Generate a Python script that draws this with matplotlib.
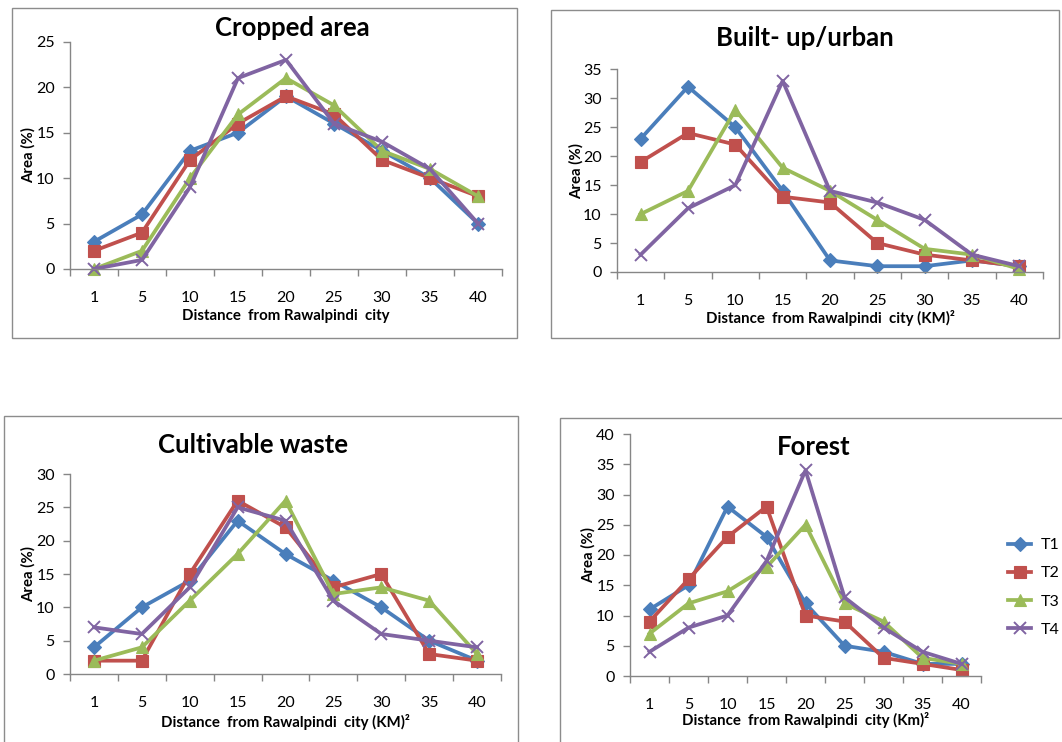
import matplotlib
matplotlib.use("Agg")
import matplotlib.pyplot as plt
from matplotlib.patches import Rectangle
from matplotlib.ticker import FixedLocator

plt.rcParams['font.family'] = ['Lato', 'DejaVu Sans']

# data
distance = ['1', '5', '10', '15', '20', '25', '30', '35', '40']
series = ['T1', 'T2', 'T3', 'T4']

cropped_t1 = [3, 6, 13, 15, 19, 16, 13, 10, 5]
cropped_t2 = [2, 4, 12, 16, 19, 17, 12, 10, 8]
cropped_t3 = [0, 2, 10, 17, 21, 18, 13, 11, 8]
cropped_t4 = [0, 1, 9, 21, 23, 16, 14, 11, 5]

built_t1 = [23, 32, 25, 14, 2, 1, 1, 2, 1]
built_t2 = [19, 24, 22, 13, 12, 5, 3, 2, 1]
built_t3 = [10, 14, 28, 18, 14, 9, 4, 3, 0.5]
built_t4 = [3, 11, 15, 33, 14, 12, 9, 3, 1]

waste_t1 = [4, 10, 14, 23, 18, 14, 10, 5, 2]
waste_t2 = [2, 2, 15, 26, 22, 13, 15, 3, 2]
waste_t3 = [2, 4, 11, 18, 26, 12, 13, 11, 3]
waste_t4 = [7, 6, 13, 25, 23, 11, 6, 5, 4]

forest_t1 = [11, 15, 28, 23, 12, 5, 4, 2, 2]
forest_t2 = [9, 16, 23, 28, 10, 9, 3, 2, 1]
forest_t3 = [7, 12, 14, 18, 25, 12, 9, 3, 2]
forest_t4 = [4, 8, 10, 19, 34, 13, 8, 4, 2]

colors = ['#4A7EBB', '#C0504D', '#9BBB59', '#8064A2']
markers = ['D', 's', '^', 'x']
msizes = [7.5, 8.5, 9, 9]

W, H = 1062, 742
fig = plt.figure(figsize=(W / 100, H / 100), dpi=100)
fig.patch.set_facecolor('white')


def px_rect(x0, y0, x1, y1):
    return [x0 / W, 1 - y1 / H, (x1 - x0) / W, (y1 - y0) / H]


def box(x0, y0, x1, y1):
    fig.patches.append(Rectangle((x0 / W, 1 - y1 / H), (x1 - x0) / W, (y1 - y0) / H,
                                 transform=fig.transFigure, fill=False,
                                 edgecolor='#8c8c8c', linewidth=1.0))


def panel(rect, data, ymax, title, title_xy, xlabel, xlabel_y, ylabel_x):
    ax = fig.add_axes(px_rect(*rect))
    xs = range(len(distance))
    for vals, c, m, ms, name in zip(data, colors, markers, msizes, series):
        ax.plot(xs, vals, color=c, marker=m, markersize=ms, linewidth=2.7,
                markeredgewidth=1.4 if m == 'x' else 0.8, label=name, clip_on=False)
    ax.set_xlim(-0.5, len(distance) - 0.5)
    ax.set_ylim(0, ymax)
    ax.set_yticks(range(0, ymax + 1, 5))
    ax.set_xticks(list(xs))
    ax.set_xticklabels(distance)
    ax.xaxis.set_minor_locator(FixedLocator([i - 0.5 for i in range(len(distance) + 1)]))
    ax.tick_params(axis='x', which='major', length=0, pad=16, labelsize=11.5, colors='black')
    ax.tick_params(axis='x', which='minor', length=5, width=1, color='#868686', direction='out')
    ax.tick_params(axis='y', length=5, width=1, color='#868686', labelsize=11.5, pad=6)
    for s in ['top', 'right']:
        ax.spines[s].set_visible(False)
    for s in ['left', 'bottom']:
        ax.spines[s].set_color('#868686')
        ax.spines[s].set_linewidth(1.0)
    ax.set_facecolor('none')
    fig.text(title_xy[0] / W, 1 - title_xy[1] / H, title, ha='center', va='center',
             fontsize=18.5, fontweight='bold')
    fig.text((rect[0] + rect[2]) / 2 / W, 1 - xlabel_y / H, xlabel, ha='center', va='center',
             fontsize=10.8, fontweight='bold')
    fig.text(ylabel_x / W, 1 - (rect[1] + rect[3]) / 2 / H, 'Area (%)', ha='center', va='center',
             rotation=90, fontsize=10.8, fontweight='bold')
    return ax


box(12, 8, 517, 338)
panel((70, 41.7, 502, 269), [cropped_t1, cropped_t2, cropped_t3, cropped_t4], 25,
      'Cropped area', (292, 28), 'Distance  from Rawalpindi  city', 316, 28)

box(551, 10, 1059, 338)
panel((617, 69.3, 1043, 272), [built_t1, built_t2, built_t3, built_t4], 35,
      'Built- up/urban', (805, 38), 'Distance  from Rawalpindi  city (KM)²', 318, 576)

box(4, 416, 518, 760)
panel((70, 474, 501, 674), [waste_t1, waste_t2, waste_t3, waste_t4], 30,
      'Cultivable waste', (253, 445), 'Distance  from Rawalpindi  city (KM)²', 722, 28)

box(560, 418, 1080, 760)
ax4 = panel((630, 434, 981, 676), [forest_t1, forest_t2, forest_t3, forest_t4], 40,
            'Forest', (814, 447), 'Distance  from Rawalpindi  city (Km)²', 720, 588)
ax4.legend(loc='upper left', bbox_to_anchor=(1000 / W, 1 - 530 / H),
           bbox_transform=fig.transFigure, frameon=False, fontsize=11.5,
           handlelength=1.45, handletextpad=0.6, labelspacing=0.88, borderpad=0)

fig.savefig('out.png', dpi=100, facecolor='white')
